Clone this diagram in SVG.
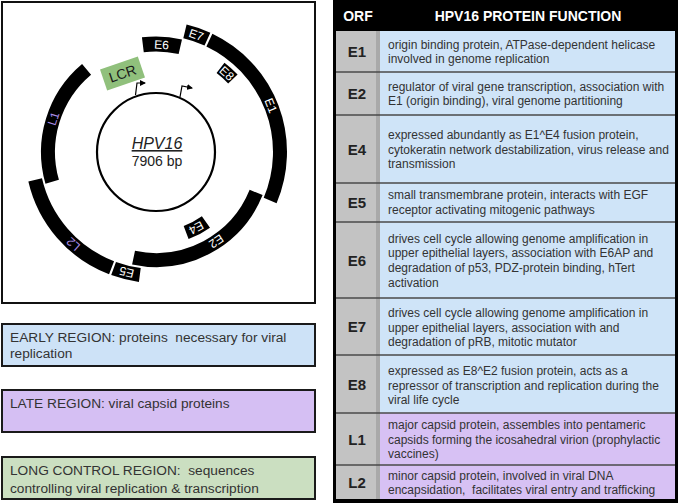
<svg xmlns="http://www.w3.org/2000/svg" width="678" height="503" viewBox="0 0 678 503">
<defs>
<style>
.frame{fill:#fff;stroke:#111;stroke-width:2}
.ring{fill:none;stroke:#000;stroke-width:14;stroke-linecap:butt}
.glab{font-family:"Liberation Sans",Arial,sans-serif;font-size:12px;fill:#fff;text-anchor:middle}
.llab{font-family:"Liberation Sans",Arial,sans-serif;font-size:12px;fill:#a98ce6;text-anchor:middle}
.desc{font-family:"Liberation Sans",Arial,sans-serif;font-size:12px;fill:#333;white-space:pre}
.orf{font-family:"Liberation Sans",Arial,sans-serif;font-size:15px;font-weight:bold;fill:#222;text-anchor:middle}
.hdr{font-family:"Liberation Sans",Arial,sans-serif;font-size:14px;font-weight:bold;fill:#fff;text-anchor:middle}
.leg{font-family:"Liberation Sans",Arial,sans-serif;font-size:13.7px;fill:#333;white-space:pre}
.sep{stroke:#4a4a4a;stroke-width:1.5}
.blue{fill:#cfe4f8}
.purp{fill:#d7c1f4}
.gray{fill:#c3c3c3}
.gdark{fill:#a9a9a9}
</style>
<marker id="arr" viewBox="0 0 6 6" refX="5" refY="3" markerWidth="5" markerHeight="5" orient="auto">
<path d="M0,0 L6,3 L0,6 z" fill="#000"/>
</marker>
</defs>
<rect width="678" height="503" fill="#fff"/>

<!-- map frame -->
<rect class="frame" x="2" y="2" width="313" height="301"/>

<g id="genome">
<circle cx="156" cy="152" r="59" fill="none" stroke="#000" stroke-width="2.2"/>
<text x="157" y="149" font-family="'Liberation Sans',Arial,sans-serif" font-size="16" font-style="italic" text-decoration="underline" fill="#222" text-anchor="middle">HPV16</text>
<text x="157" y="166" font-family="'Liberation Sans',Arial,sans-serif" font-size="14" fill="#222" text-anchor="middle">7906 bp</text>
</g>

<g id="E7"><path class="ring" d="M184.95,31.42 A124,124 0 0 1 207.43,39.16"/><text class="glab" transform="translate(196.37,34.76) rotate(19)" dy="0.36em">E7</text></g>
<g id="E1"><path class="ring" d="M209.38,40.08 A124,124 0 0 1 270.14,200.45"/><text class="glab" transform="translate(270.97,105.55) rotate(68)" dy="0.36em">E1</text></g>
<g id="E5"><path class="ring" d="M139.82,274.94 A124,124 0 0 1 113.59,268.52"/><text class="glab" transform="translate(126.53,272.44) rotate(193.75)" dy="0.36em">E5</text></g>
<g id="L2"><path class="ring" d="M111.56,267.76 A124,124 0 0 1 35.17,179.90"/><text class="llab" transform="translate(73.03,244.15) rotate(222)" dy="0.36em">L2</text></g>
<g id="L1"><path class="ring" d="M52.18,181.77 A108,108 0 0 1 86.58,69.27"/><text class="llab" transform="translate(53.28,118.63) rotate(-72)" dy="0.36em">L1</text></g>
<g id="E6"><path class="ring" style="stroke-width:15" d="M142.84,44.81 A108,108 0 0 1 180.30,46.76"/><text class="glab" transform="translate(161.63,44.65) rotate(3)" dy="0.36em">E6</text></g>
<g id="E8"><path class="ring" style="stroke-width:13" d="M220.53,67.90 A106,106 0 0 1 232.89,79.03"/><text class="glab" transform="translate(226.93,73.23) rotate(42)" dy="0.36em">E8</text></g>
<g id="E2"><path class="ring" d="M256.14,192.46 A108,108 0 0 1 133.55,257.63"/><text class="glab" transform="translate(216.39,241.53) rotate(146)" dy="0.36em">E2</text></g>
<g id="E4"><path class="ring" d="M205.94,222.01 A86,86 0 0 1 186.12,232.56"/><text class="glab" transform="translate(196.38,227.93) rotate(152)" dy="0.36em">E4</text></g>
<g id="LCR"><rect x="-20" y="-11" width="40" height="22" fill="#90c07c" transform="translate(122.5,73.5) rotate(-19)"/><text transform="translate(122.5,73.5) rotate(-19)" dy="0.36em" font-family="'Liberation Sans',Arial,sans-serif" font-size="14" fill="#1a1a1a" text-anchor="middle">LCR</text></g>

<g id="connectors" fill="none" stroke="#000" stroke-width="1.2">
<path d="M135.5,95 L137,83 L145,83" marker-end="url(#arr)"/>
<path d="M180,97 L182,86 L192,88" marker-end="url(#arr)"/>
</g>

<!-- legend -->
<g id="legend-early"><rect x="2" y="324" width="313" height="42" fill="#cde2f7" stroke="#1a1a1a" stroke-width="2"/>
<text class="leg" x="10" y="342">EARLY REGION: proteins  necessary for viral</text>
<text class="leg" x="10" y="358">replication</text></g>
<g id="legend-late"><rect x="2" y="390" width="313" height="42" fill="#d5bff3" stroke="#1a1a1a" stroke-width="2"/>
<text class="leg" x="10" y="408">LATE REGION: viral capsid proteins</text></g>
<g id="legend-lcr"><rect x="2" y="457" width="313" height="42" fill="#cbdfc1" stroke="#1a1a1a" stroke-width="2"/>
<text class="leg" x="10" y="475">LONG CONTROL REGION:  sequences</text>
<text class="leg" x="10" y="493">controlling viral replication &amp; transcription</text></g>

<!-- table -->
<g id="table">
<rect x="333" y="0" width="345" height="503" fill="#000"/>
<text class="hdr" x="358" y="21">ORF</text>
<text class="hdr" x="528" y="21">HPV16 PROTEIN FUNCTION</text>
<rect class="gray" x="336" y="31" width="40" height="468"/>
<rect class="gdark" x="376" y="31" width="4" height="468"/>
<rect class="blue" x="380" y="31" width="295" height="382"/>
<rect class="purp" x="380" y="413" width="295" height="86"/>
<g class="sep">
<line x1="336" y1="72" x2="675" y2="72"/>
<line x1="336" y1="115" x2="675" y2="115"/>
<line x1="336" y1="183" x2="675" y2="183"/>
<line x1="336" y1="222" x2="675" y2="222"/>
<line x1="336" y1="298" x2="675" y2="298"/>
<line x1="336" y1="355" x2="675" y2="355"/>
<line x1="336" y1="413" x2="675" y2="413"/>
<line x1="336" y1="465" x2="675" y2="465"/>
</g>
</g>

<g id="row-E1"><text class="orf" x="357" y="57">E1</text>
<text class="desc" x="388" y="48.5">origin binding protein, ATPase-dependent helicase</text>
<text class="desc" x="388" y="63.2">involved in genome replication</text></g>
<g id="row-E2"><text class="orf" x="357" y="99">E2</text>
<text class="desc" x="388" y="90.5">regulator of viral gene transcription, association with</text>
<text class="desc" x="388" y="105.2">E1 (origin binding), viral genome partitioning</text></g>
<g id="row-E4"><text class="orf" x="357" y="154.5">E4</text>
<text class="desc" x="388" y="138.8">expressed abundantly as E1^E4 fusion protein,</text>
<text class="desc" x="388" y="153.5">cytokeratin network destabilization, virus release and</text>
<text class="desc" x="388" y="168.2">transmission</text></g>
<g id="row-E5"><text class="orf" x="357" y="207.5">E5</text>
<text class="desc" x="388" y="199">small transmembrane protein, interacts with EGF</text>
<text class="desc" x="388" y="213.7">receptor activating mitogenic pathways</text></g>
<g id="row-E6"><text class="orf" x="357" y="265.5">E6</text>
<text class="desc" x="388" y="242.5">drives cell cycle allowing genome amplification in</text>
<text class="desc" x="388" y="257.2">upper epithelial layers, association with E6AP and</text>
<text class="desc" x="388" y="271.9">degradation of p53, PDZ-protein binding, hTert</text>
<text class="desc" x="388" y="286.6">activation</text></g>
<g id="row-E7"><text class="orf" x="357" y="332">E7</text>
<text class="desc" x="388" y="316.8">drives cell cycle allowing genome amplification in</text>
<text class="desc" x="388" y="331.5">upper epithelial layers, association with and</text>
<text class="desc" x="388" y="346.2">degradation of pRB, mitotic mutator</text></g>
<g id="row-E8"><text class="orf" x="357" y="389.5">E8</text>
<text class="desc" x="388" y="374.8">expressed as E8^E2 fusion protein, acts as a</text>
<text class="desc" x="388" y="389.5">repressor of transcription and replication during the</text>
<text class="desc" x="388" y="404.2">viral life cycle</text></g>
<g id="row-L1"><text class="orf" x="357" y="444.5">L1</text>
<text class="desc" x="388" y="428.8">major capsid protein, assembles into pentameric</text>
<text class="desc" x="388" y="443.5">capsids forming the icosahedral virion (prophylactic</text>
<text class="desc" x="388" y="458.2">vaccines)</text></g>
<g id="row-L2"><text class="orf" x="357" y="487.5">L2</text>
<text class="desc" x="388" y="479.5">minor capsid protein, involved in viral DNA</text>
<text class="desc" x="388" y="494.2">encapsidation,  facilitates viral entry and trafficking</text></g>
</svg>
